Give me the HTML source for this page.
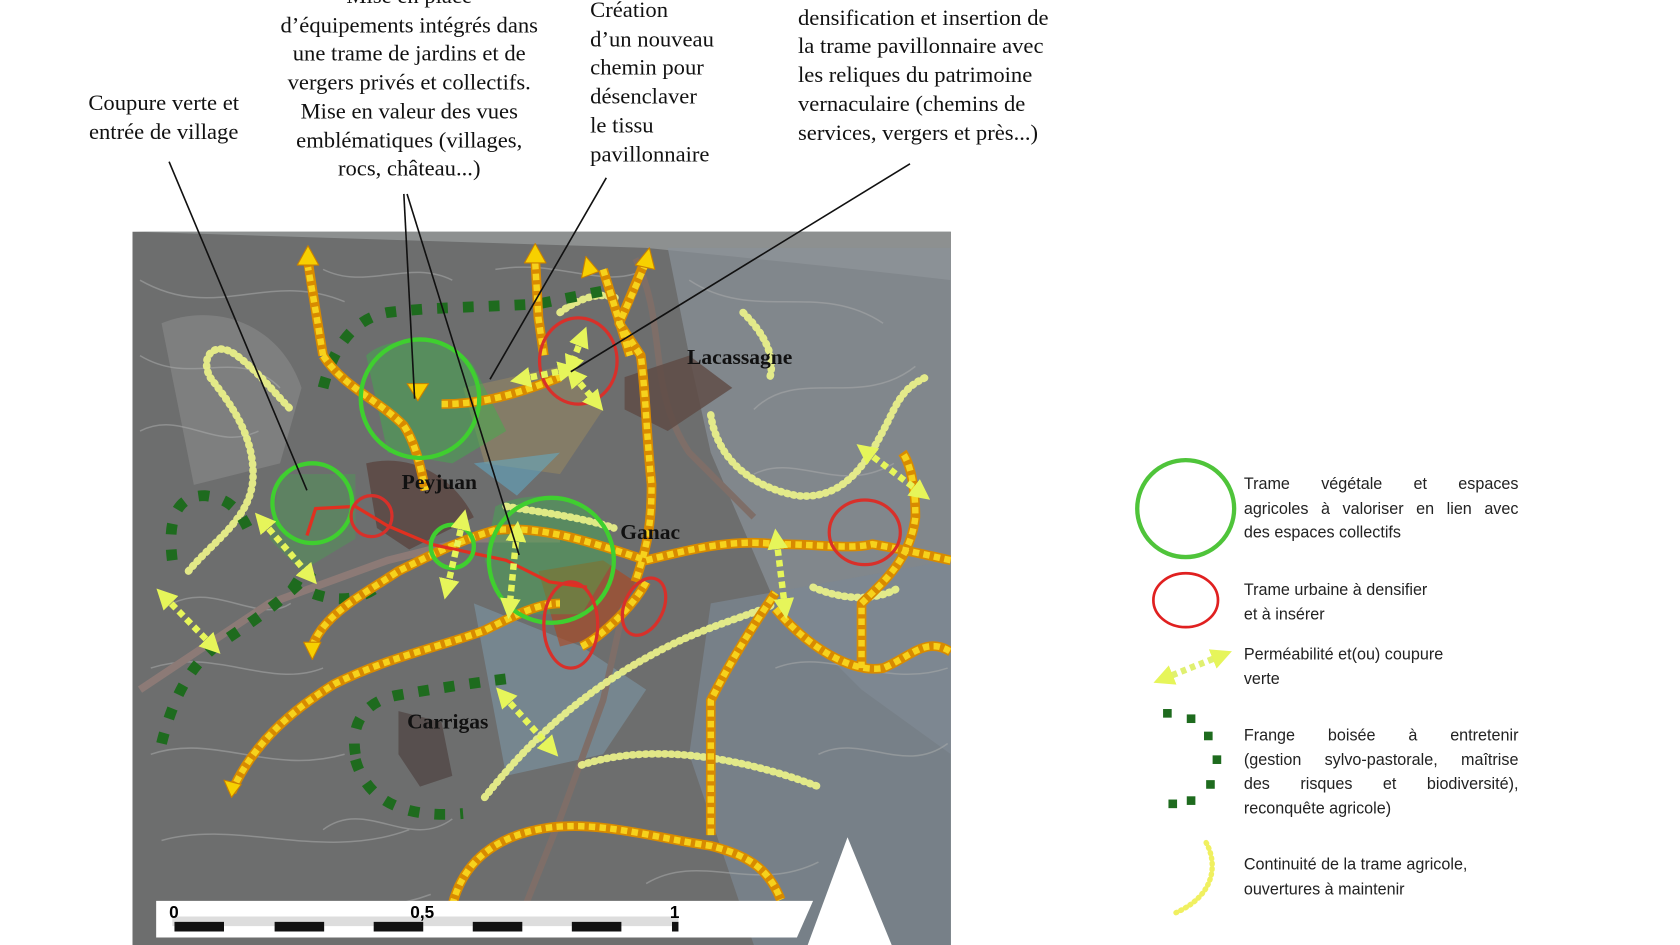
<!DOCTYPE html>
<html><head><meta charset="utf-8"><style>
html,body{margin:0;padding:0;background:#fff;width:1680px;height:945px;overflow:hidden}
#w{position:absolute;left:0;top:0;width:1560px;height:877px;transform:scale(1.07692,1.07754);transform-origin:0 0}
.t{position:absolute;font-family:"Liberation Serif",serif;font-size:21px;line-height:26.7px;color:#111;white-space:nowrap}
.c{text-align:center}
.lg{position:absolute;left:1155px;width:255px;font-family:"Liberation Sans",sans-serif;font-size:15px;line-height:22.5px;color:#222}
.lg div{white-space:nowrap}
.j{text-align:justify;text-align-last:justify;white-space:normal!important}
.lbl{font-family:"Liberation Serif",serif;font-weight:bold;font-size:20px;fill:#111}
svg{position:absolute;left:0;top:0}
</style></head><body><div id="w">
<svg width="1560" height="877" viewBox="0 0 1560 877">
<defs>
<clipPath id="cm"><rect x="123" y="215" width="760" height="662"/></clipPath>
<marker id="ay" viewBox="0 0 10 10" refX="5" refY="5" markerWidth="3.2" markerHeight="3.2" orient="auto-start-reverse"><path d="M0,0L10,5L0,10z" fill="#e6f55a"/></marker>
</defs>
<g clip-path="url(#cm)">
<rect x="123" y="215" width="760" height="662" fill="#6d6e6e"/>
<path d="M123,215H883V260C800,250 700,240 600,230Z" fill="#8d9090"/>
<path d="M620,230L883,230V700L800,640L720,560L660,420L640,330Z" fill="#8a9198" opacity=".7"/>
<path d="M660,560L883,520V877H700L640,700Z" fill="#7c8893" opacity=".7"/>
<path d="M440,560L540,600L600,640L560,700L470,720Z" fill="#7d96a5" opacity=".6"/>
<path d="M150,300C200,280 260,300 280,360L260,430L180,450Z" fill="#8a8a8a" opacity=".6"/>
<g stroke="#a9abab" stroke-width="1.4" fill="none" opacity=".55">
<path d="M130,260C200,300 250,250 320,280"/><path d="M130,330C180,360 220,320 260,360"/><path d="M140,620C200,600 250,640 300,620"/>
<path d="M140,700C200,680 250,720 320,700"/><path d="M150,780C220,760 300,800 380,770"/><path d="M200,850C260,820 320,860 400,830"/>
<path d="M640,260C700,300 760,260 820,300"/><path d="M700,380C740,340 800,380 850,340"/><path d="M720,620C770,600 820,640 880,620"/>
<path d="M760,700C800,680 840,720 880,690"/><path d="M600,820C650,790 700,830 760,800"/><path d="M160,560C200,540 240,580 270,560"/>
<path d="M460,250C520,240 560,270 600,250"/><path d="M300,770C340,740 380,790 420,760"/>
<path d="M130,400C170,380 200,420 240,400"/><path d="M300,250C340,270 380,240 420,260"/><path d="M700,440C740,420 780,460 830,430"/>
</g>
<path d="M130,640L250,560L360,520L440,500L520,500" stroke="#8c7a76" stroke-width="7" fill="none"/>
<path d="M590,240C620,300 600,360 640,420L700,480" stroke="#7e6e68" stroke-width="6" fill="none"/>
<path d="M580,560L560,650L520,760L480,860" stroke="#7e6e68" stroke-width="6" fill="none"/>
<path d="M340,430C380,420 420,440 440,480L380,510L350,490Z" fill="#5a4540" opacity=".8"/>
<path d="M580,350L640,330L680,360L620,400L580,380Z" fill="#5e4a44" opacity=".8"/>
<path d="M500,530L560,520L590,540L560,590L520,600Z" fill="#b0451a" opacity=".6"/>
<path d="M370,660L410,670L420,720L390,730L370,700Z" fill="#4e4240" opacity=".7"/>
<path d="M430,360L520,340L560,380L520,440L450,430Z" fill="#9b8a60" opacity=".5"/>
<path d="M340,330C360,310 420,310 440,340L470,400L420,430L360,420Z" fill="#3cb34a" opacity=".45"/>
<path d="M460,470C500,450 560,460 570,520L540,570L470,570L450,520Z" fill="#3cb34a" opacity=".4"/>
<path d="M260,440L330,440L330,500L280,530L250,500Z" fill="#3cb34a" opacity=".3"/>
<path d="M440,430L520,420L480,460Z" fill="#5fb0d0" opacity=".5"/>
<g stroke="#eef58a" stroke-width="7" fill="none" stroke-dasharray="1 5" stroke-linecap="round" opacity=".9">
<path d="M175,530C200,500 235,480 235,440C235,400 210,370 195,350C185,330 200,315 220,330C240,345 255,365 270,380"/>
<path d="M660,385C665,420 690,450 740,460C790,465 810,420 830,380C840,360 850,355 860,350"/>
<path d="M520,290C540,275 560,270 575,278"/>
<path d="M450,740C490,690 540,640 620,600C660,580 700,570 720,560"/>
<path d="M540,710C600,690 680,700 760,730"/>
<path d="M755,545C790,560 820,555 835,545"/>
<path d="M690,290C710,310 720,330 715,350"/>
<path d="M470,470C500,475 540,480 570,490"/>
</g>
<g stroke="#1e6b1e" stroke-width="10" fill="none" stroke-dasharray="10 14">
<path d="M300,360C310,320 330,295 360,290C400,285 450,285 500,282L560,270"/>
<path d="M160,520C155,480 165,460 190,460C210,462 220,470 230,490"/>
<path d="M150,690C160,650 175,620 200,600C230,580 260,560 290,530"/>
<path d="M330,700C325,670 340,650 370,645C400,640 430,635 470,630"/>
<path d="M330,705C340,740 370,760 430,755"/>
<path d="M270,540C300,560 330,560 350,545"/>
</g>
<g fill="none" stroke-linejoin="round">
<g stroke="#d88a00" stroke-width="9">
<path d="M300,330C295,300 290,270 286,242"/>
<path d="M300,330C320,360 350,370 375,395C385,410 390,430 395,455"/>
<path d="M410,375C440,375 470,370 520,350"/>
<path d="M497,240L500,295L505,330"/>
<path d="M600,240L575,300L595,330C600,370 600,400 605,450C605,490 600,510 590,540"/>
<path d="M290,600C300,570 340,550 370,530C400,515 430,500 460,492C500,488 540,500 600,520C640,510 680,500 720,505C760,505 790,510 810,505C840,510 860,515 883,520"/>
<path d="M215,735C235,690 270,660 310,635C360,610 410,600 450,585C480,570 500,560 520,560"/>
<path d="M660,775L660,650C680,610 700,580 720,550"/>
<path d="M420,840C430,800 460,775 510,768C560,762 610,778 660,785C700,795 715,810 725,835"/>
<path d="M720,565C750,600 790,625 820,620C845,610 860,590 883,605"/>
<path d="M800,620L800,560C820,540 845,520 850,480C850,450 845,430 838,420"/>
<path d="M540,600C560,590 590,560 600,540"/>
<path d="M560,250L585,330"/>
</g>
<g stroke="#f6d21c" stroke-width="6" stroke-dasharray="6 4">
<path d="M300,330C295,300 290,270 286,248"/>
<path d="M300,330C320,360 350,370 375,395C385,410 390,430 395,455"/>
<path d="M410,375C440,375 470,370 520,350"/>
<path d="M497,244L500,295L505,330"/>
<path d="M600,244L575,300L595,330C600,370 600,400 605,450C605,490 600,510 590,540"/>
<path d="M290,600C300,570 340,550 370,530C400,515 430,500 460,492C500,488 540,500 600,520C640,510 680,500 720,505C760,505 790,510 810,505C840,510 860,515 883,520"/>
<path d="M215,735C235,690 270,660 310,635C360,610 410,600 450,585C480,570 500,560 520,560"/>
<path d="M660,775L660,650C680,610 700,580 720,550"/>
<path d="M420,840C430,800 460,775 510,768C560,762 610,778 660,785C700,795 715,810 725,835"/>
<path d="M720,565C750,600 790,625 820,620C845,610 860,590 883,605"/>
<path d="M800,620L800,560C820,540 845,520 850,480C850,450 845,430 838,420"/>
<path d="M540,600C560,590 590,560 600,540"/>
<path d="M560,250L585,330"/>
</g>
<g fill="#f7d000" stroke="#c98000" stroke-width="1">
<path d="M286,228L276,246L296,246Z"/><path d="M497,226L487,244L507,244Z"/><path d="M603,230L590,246L608,250Z"/><path d="M544,238L540,258L556,252Z"/>
<path d="M290,612L282,596L298,596Z"/><path d="M215,740L208,724L224,728Z"/><path d="M388,372L378,356L398,356Z"/>
</g>
</g>
<path d="M285,497L293,472L330,470L360,488L400,505L470,520L510,540L545,545" stroke="#e03020" stroke-width="3" fill="none"/>
<g fill="none" stroke="#3fcf2f" stroke-width="4">
<circle cx="390" cy="370" r="55"/><circle cx="290" cy="467" r="37"/><circle cx="512" cy="520" r="58"/><circle cx="420" cy="507" r="20"/>
</g>
<g fill="none" stroke="#d8302a" stroke-width="3">
<ellipse cx="537" cy="335" rx="36" ry="40"/><circle cx="345" cy="479" r="19"/><ellipse cx="530" cy="580" rx="25" ry="40"/>
<ellipse cx="598" cy="563" rx="18" ry="28" transform="rotate(25 598 563)"/><ellipse cx="803" cy="494" rx="33" ry="30"/>
</g>
<g stroke="#e6f55a" stroke-width="6" stroke-dasharray="6 4" marker-start="url(#ay)" marker-end="url(#ay)">
<path d="M152,553L198,600"/><path d="M243,483L288,535"/><path d="M430,482L415,547"/><path d="M480,493L473,565"/>
<path d="M467,645L512,695"/><path d="M721,500L729,565"/><path d="M803,418L856,458"/>
<path d="M483,352L528,343"/><path d="M541,312L530,340"/><path d="M532,348L554,374"/>
</g>
<text class="lbl" x="638" y="338">Lacassagne</text>
<text class="lbl" x="373" y="454">Peyjuan</text>
<text class="lbl" x="576" y="500">Ganac</text>
<text class="lbl" x="378" y="676">Carrigas</text>
<path d="M145,836H755L740,870H145Z" fill="#fff"/>
<path d="M160,855H630" stroke="#ddd" stroke-width="9"/>
<g stroke="#111" stroke-width="9"><path d="M162,860H208M255,860H301M347,860H393M439,860H485M531,860H577M624,860H630"/></g>
<text x="157" y="852" font-family="Liberation Sans" font-weight="bold" font-size="16">0</text>
<text x="381" y="852" font-family="Liberation Sans" font-weight="bold" font-size="16">0,5</text>
<text x="622" y="852" font-family="Liberation Sans" font-weight="bold" font-size="16">1</text>
<path d="M787,777L750,877H828Z" fill="#fff"/>
</g>
<g stroke="#111" stroke-width="1.5"><path d="M157,150L285,455"/><path d="M375,180L385,370"/><path d="M378,180L482,515"/><path d="M563,165L455,352"/><path d="M845,152L530,345"/></g>
<circle cx="1101" cy="472" r="45" fill="none" stroke="#4fc43a" stroke-width="4"/>
<ellipse cx="1101" cy="557" rx="30" ry="25" fill="none" stroke="#e02020" stroke-width="2.5"/>
<path d="M1080,630L1135,608" stroke="#e0f070" stroke-width="6" stroke-dasharray="5 4" marker-start="url(#ay)" marker-end="url(#ay)"/>
<g fill="#1e6b1e"><rect x="1080" y="658" width="8" height="8"/><rect x="1102" y="663" width="8" height="8"/><rect x="1118" y="679" width="8" height="8"/><rect x="1126" y="701" width="8" height="8"/><rect x="1120" y="724" width="8" height="8"/><rect x="1102" y="739" width="8" height="8"/><rect x="1085" y="742" width="8" height="8"/></g>
<path d="M1120,782C1130,800 1130,830 1092,847" stroke="#f0f060" stroke-width="5" stroke-dasharray="1 4" stroke-linecap="round" fill="none"/>
</svg>
<div class="t c" style="left:230px;top:-17px;width:300px">Mise en place<br>d’équipements intégrés dans<br>une trame de jardins et de<br>vergers privés et collectifs.<br>Mise en valeur des vues<br>emblématiques (villages,<br>rocs, château...)</div>
<div class="t" style="left:548px;top:-4px">Création<br>d’un nouveau<br>chemin pour<br>désenclaver<br>le tissu<br>pavillonnaire</div>
<div class="t" style="left:741px;top:-24px">Harmonisation,<br>densification et insertion de<br>la trame pavillonnaire avec<br>les reliques du patrimoine<br>vernaculaire (chemins de<br>services, vergers et près...)</div>
<div class="t c" style="left:52px;top:82px;width:200px">Coupure verte et<br>entrée de village</div>
<div class="lg" style="top:439px"><div class="j">Trame végétale et espaces</div><div class="j">agricoles à valoriser en lien avec</div><div>des espaces collectifs</div></div>
<div class="lg" style="top:537px"><div>Trame urbaine à densifier</div><div>et à insérer</div></div>
<div class="lg" style="top:597px"><div>Perméabilité et(ou) coupure</div><div>verte</div></div>
<div class="lg" style="top:672px"><div class="j">Frange boisée à entretenir</div><div class="j">(gestion sylvo-pastorale, maîtrise</div><div class="j">des risques et biodiversité),</div><div>reconquête agricole)</div></div>
<div class="lg" style="top:792px"><div>Continuité de la trame agricole,</div><div>ouvertures à maintenir</div></div>
</div></body></html>
